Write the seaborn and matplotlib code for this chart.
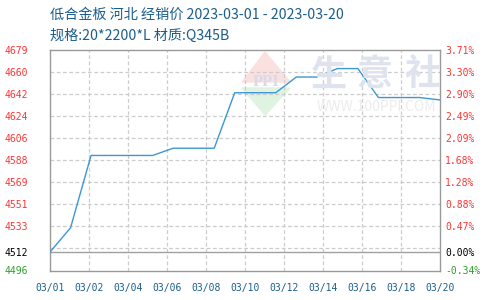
import numpy as np
import pandas as pd
import matplotlib
matplotlib.use("Agg")
import matplotlib.pyplot as plt
from matplotlib.patches import Polygon
import seaborn as sns

# ---- data ----
dates = ["2023-03-01", "2023-03-02", "2023-03-03", "2023-03-06", "2023-03-07",
         "2023-03-08", "2023-03-09", "2023-03-10", "2023-03-12", "2023-03-13",
         "2023-03-14", "2023-03-15", "2023-03-16", "2023-03-17", "2023-03-19",
         "2023-03-20"]
prices = [4512, 4532, 4592, 4592, 4598, 4598, 4598, 4644, 4644, 4657,
          4657, 4664, 4664, 4640, 4640, 4638]
base_price = 4512
x_tick_labels = ["03/01", "03/02", "03/04", "03/06", "03/08", "03/10",
                 "03/12", "03/14", "03/16", "03/18", "03/20"]
left_tick_labels = ["4496", "4512", "4533", "4551", "4569", "4588",
                    "4606", "4624", "4642", "4660", "4679"]
right_tick_labels = ["-0.34%", "0.00%", "0.47%", "0.88%", "1.28%", "1.68%",
                     "2.09%", "2.49%", "2.90%", "3.30%", "3.71%"]
pct_min, pct_max = -0.34, 3.71
title1 = "低合金板 河北 经销价 2023-03-01 - 2023-03-20"
title2 = "规格:20*2200*L 材质:Q345B"

sns.set_theme(style="white")
plt.rcParams['font.family'] = ['Noto Sans CJK SC', 'DejaVu Sans']

d = pd.to_datetime(pd.Series(dates))
df = pd.DataFrame({"day": (d - d.iloc[0]).dt.days.astype(float), "price": prices})
span = (pd.to_datetime(dates[-1]) - pd.to_datetime(dates[0])).days

fig = plt.figure(figsize=(4.9, 3.0), dpi=100)
ax = fig.add_axes([50/490, 29.5/300, 390/490, 220.5/300])

ymin = base_price * (1 + pct_min / 100)
ymax = base_price * (1 + pct_max / 100)
ax.set_xlim(0, span)
ax.set_ylim(ymin, ymax)

yt = np.linspace(ymin, ymax, len(left_tick_labels))
yt[1] = base_price
xt = np.linspace(0, span, len(x_tick_labels))

# grid
for v in xt[1:-1]:
    ax.axvline(v, color="#cccccc", lw=0.9, ls=(0, (3, 2)), zorder=1)
grid_y = np.linspace(ymin, ymax, len(left_tick_labels))
for v in grid_y[1:-1]:
    ax.axhline(v, color="#cccccc", lw=0.9, ls=(0, (3, 2)), zorder=1)
ax.axhline(base_price, color="#a0a0a0", lw=1.0, zorder=2)

# watermark
for cx, ch in [(329, "生"), (375, "意"), (422, "社")]:
    fig.text(cx/490, 1 - 75/300, ch, fontsize=26, color="#dfe3ee", ha="center",
             va="center", fontweight="bold", zorder=0)
fig.text(376/490, 1 - 107/300, "WWW.100PPI.COM", fontsize=10, color="#ececec",
         ha="center", va="center", zorder=0)
top = Polygon([(242/490, 1 - 82/300), (265/490, 1 - 52/300), (290/490, 1 - 82/300)],
              closed=True, transform=fig.transFigure, color="#fbe0e0", zorder=0)
bot = Polygon([(242/490, 1 - 88/300), (265/490, 1 - 115/300), (290/490, 1 - 88/300)],
              closed=True, transform=fig.transFigure, color="#e0f2e0", zorder=0)
fig.add_artist(top)
fig.add_artist(bot)
fig.text(266/490, 1 - 82/300, "PPI", fontsize=12, color="#d5dbea", ha="center", va="center",
         family="Liberation Serif", fontweight="bold", zorder=0)

sns.lineplot(data=df, x="day", y="price", ax=ax, color="#3d97d3", lw=1.0, zorder=3)
ax.set_xlabel("")
ax.set_ylabel("")
ax.patch.set_alpha(0)

for s in ax.spines.values():
    s.set_color("#999999")
    s.set_linewidth(1.0)

mono = "DejaVu Sans Mono"
ax.set_xticks(xt)
ax.set_xticklabels(x_tick_labels, family=mono, fontsize=7, color="#1b5e8c")
ax.tick_params(axis="x", length=0, pad=9)
ax.set_yticks(yt)
ax.set_yticklabels(left_tick_labels, family=mono, fontsize=7)
ax.tick_params(axis="y", length=0, pad=15.5)
for i, t in enumerate(ax.get_yticklabels()):
    t.set_color("#2ca02c" if i == 0 else ("#000000" if i == 1 else "#ff3333"))

ax2 = ax.twinx()
ax2.set_ylim(ax.get_ylim())
ax2.set_yticks(yt)
ax2.set_yticklabels(right_tick_labels, family=mono, fontsize=7)
ax2.tick_params(axis="y", length=0, pad=3.6)
for i, t in enumerate(ax2.get_yticklabels()):
    t.set_color("#2ca02c" if i == 0 else ("#000000" if i == 1 else "#ff3333"))
for s in ax2.spines.values():
    s.set_visible(False)

fig.text(50/490, 1 - 15/300, title1, fontsize=10.2, color="#1b5e8c", ha="left", va="center")
fig.text(50/490, 1 - 36/300, title2, fontsize=10.2, color="#1b5e8c", ha="left", va="center")

fig.savefig("out.png", dpi=100)
